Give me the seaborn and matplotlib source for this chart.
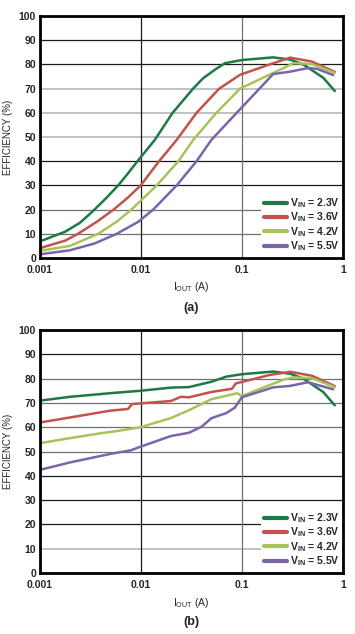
import numpy as np
import pandas as pd
import matplotlib
matplotlib.use("Agg")
import matplotlib.pyplot as plt
import seaborn as sns

# ---------------- data (a) ----------------
a_x_23 = [0.001, 0.0018, 0.0025, 0.0033, 0.0045, 0.006, 0.0075, 0.0093, 0.0138, 0.0207,
          0.033, 0.0415, 0.055, 0.068, 0.1, 0.204, 0.3, 0.405, 0.637, 0.83]
a_y_23 = [6.8, 10.9, 14.5, 19, 24.5, 30, 35, 40, 48.8, 60,
          70, 74.3, 78, 80.5, 81.8, 82.9, 82, 80, 74.5, 69]
a_x_36 = [0.001, 0.0018, 0.0024, 0.0037, 0.0054, 0.0075, 0.01, 0.0152, 0.0227, 0.0357,
          0.0598, 0.096, 0.189, 0.3, 0.49, 0.83]
a_y_36 = [4, 7.2, 10, 15, 20, 25, 30, 40, 48.8, 60,
          70, 75.7, 80, 82.8, 81.2, 76.9]
a_x_42 = [0.001, 0.002, 0.0038, 0.0058, 0.0081, 0.0144, 0.0236, 0.0331, 0.056, 0.096,
          0.256, 0.322, 0.49, 0.83]
a_y_42 = [2.9, 5, 10, 15, 20, 30, 40, 48.8, 60, 70,
          78.4, 80.5, 80.2, 76.5]
a_x_55 = [0.001, 0.002, 0.0035, 0.0058, 0.0095, 0.0133, 0.0227, 0.0357, 0.05, 0.089,
          0.204, 0.3, 0.45, 0.55, 0.8]
a_y_55 = [1.5, 3.2, 6, 10, 15, 20, 30, 40, 48.8, 60,
          76, 77, 78.5, 78.2, 75.6]

# ---------------- data (b) ----------------
b_x_23 = [0.001, 0.002, 0.005, 0.01, 0.02, 0.03, 0.05, 0.07, 0.1, 0.204, 0.3, 0.405, 0.637, 0.83]
b_y_23 = [70.9, 72.5, 74, 75, 76.3, 76.5, 78.7, 80.8, 81.8, 82.9, 82, 80, 74.5, 69]
b_x_36 = [0.001, 0.002, 0.005, 0.0075, 0.0082, 0.01, 0.02, 0.025, 0.03, 0.05, 0.08, 0.087,
          0.189, 0.3, 0.49, 0.83]
b_y_36 = [61.9, 64, 66.8, 67.5, 69.5, 69.8, 70.8, 72.5, 72.3, 74.5, 75.8, 78,
          81.5, 82.8, 81.2, 76.9]
b_x_42 = [0.001, 0.002, 0.004, 0.006, 0.01, 0.02, 0.03, 0.05, 0.09, 0.1, 0.256, 0.322, 0.49, 0.83]
b_y_42 = [53.4, 55.5, 57.5, 58.5, 60, 63.8, 67, 71.5, 74, 72.8, 79.5, 80.5, 80.2, 76.5]
b_x_55 = [0.001, 0.002, 0.005, 0.008, 0.01, 0.02, 0.03, 0.04, 0.05, 0.07, 0.085, 0.1,
          0.204, 0.3, 0.45, 0.8]
b_y_55 = [42.4, 45.5, 49, 50.5, 52, 56.4, 57.7, 60.2, 63.7, 65.8, 68, 72.3,
          76.4, 77, 78.5, 75.6]

labels = [r"V$_{\mathregular{IN}}$ = 2.3V", r"V$_{\mathregular{IN}}$ = 3.6V",
          r"V$_{\mathregular{IN}}$ = 4.2V", r"V$_{\mathregular{IN}}$ = 5.5V"]
colors = ["#1d7a45", "#c4524c", "#a6c45a", "#7c64a9"]
xticks = [0.001, 0.01, 0.1, 1]
xticklabels = ["0.001", "0.01", "0.1", "1"]
yticks = list(range(0, 101, 10))


def make_df(xs, ys):
    frames = []
    for lab, x, y in zip(labels, xs, ys):
        frames.append(pd.DataFrame({"I": x, "E": y, "V": lab}))
    return pd.concat(frames, ignore_index=True)


df_a = make_df([a_x_23, a_x_36, a_x_42, a_x_55], [a_y_23, a_y_36, a_y_42, a_y_55])
df_b = make_df([b_x_23, b_x_36, b_x_42, b_x_55], [b_y_23, b_y_36, b_y_42, b_y_55])

sns.set_style("white")
plt.rcParams["font.family"] = ["Liberation Sans", "DejaVu Sans"]
plt.rcParams["mathtext.default"] = "regular"

W, H = 355, 634
fig = plt.figure(figsize=(W / 100, H / 100), dpi=100)
L, R = 39.5, 343


def add_ax(top, bottom):
    return fig.add_axes([L / W, 1 - bottom / H, (R - L) / W, (bottom - top) / H])


ax_a = add_ax(16, 258)
ax_b = add_ax(330, 573)

BLK, DG, LG = "#1a1a1a", "#707070", "#bcbcbc"
# gridline shades (y = 10..90), as seen in the scanned figure
grid_a = [DG, DG, BLK, BLK, LG, LG, LG, BLK, BLK]
grid_b = [LG, BLK, BLK, BLK, DG, DG, DG, DG, BLK]
vgrid = [BLK, DG]

for ax, df, cap, capy, gcols in [(ax_a, df_a, "(a)", 308, grid_a), (ax_b, df_b, "(b)", 622, grid_b)]:
    sns.lineplot(data=df, x="I", y="E", hue="V", palette=colors, ax=ax,
                 linewidth=1.8, sort=True, estimator=None, legend=True, zorder=3)
    ax.set_xscale("log")
    ax.set_xlim(0.001, 1)
    ax.set_ylim(0, 100)
    ax.set_xticks(xticks)
    ax.set_xticklabels(xticklabels)
    ax.xaxis.set_minor_locator(matplotlib.ticker.NullLocator())
    ax.set_yticks(yticks)
    ax.tick_params(axis="y", length=0, labelsize=7.5, pad=2.5)
    ax.tick_params(axis="x", length=0, labelsize=7.5, pad=5)
    for t in ax.get_xticklabels() + ax.get_yticklabels():
        t.set_fontweight("bold")
    for yv, c in zip(yticks[1:-1], gcols):
        ax.axhline(yv, color=c, linewidth=1.3 if c == LG else 0.9, zorder=1)
    for xv, c in zip(xticks[1:-1], vgrid):
        ax.axvline(xv, color=c, linewidth=0.9, zorder=1)
    for s in ax.spines.values():
        s.set_visible(True)
        s.set_color("black")
        s.set_linewidth(2)
        s.set_zorder(5)
    ax.set_xlabel(r"I$_{\mathregular{OUT}}$ (A)", fontsize=7.5, labelpad=4)
    ax.set_ylabel("EFFICIENCY (%)", fontsize=7)
    ax.yaxis.set_label_coords(-0.0857, 0.5)
    leg = ax.legend(loc="lower right", bbox_to_anchor=(0.998, 0.01), frameon=True,
                    fontsize=7.5, handlelength=2.2, handletextpad=0.3,
                    labelspacing=0.05, borderpad=0.25, borderaxespad=0.0)
    leg.set_zorder(4)
    leg.get_frame().set_facecolor("white")
    leg.get_frame().set_edgecolor("none")
    leg.get_frame().set_alpha(1)
    for line in leg.get_lines():
        line.set_linewidth(3)
    for t in leg.get_texts():
        t.set_fontweight("bold")
    fig.text((L + R) / 2 / W, 1 - capy / H, cap, ha="center", va="center",
             fontsize=9, fontweight="bold")

fig.savefig("out.png", dpi=100)
